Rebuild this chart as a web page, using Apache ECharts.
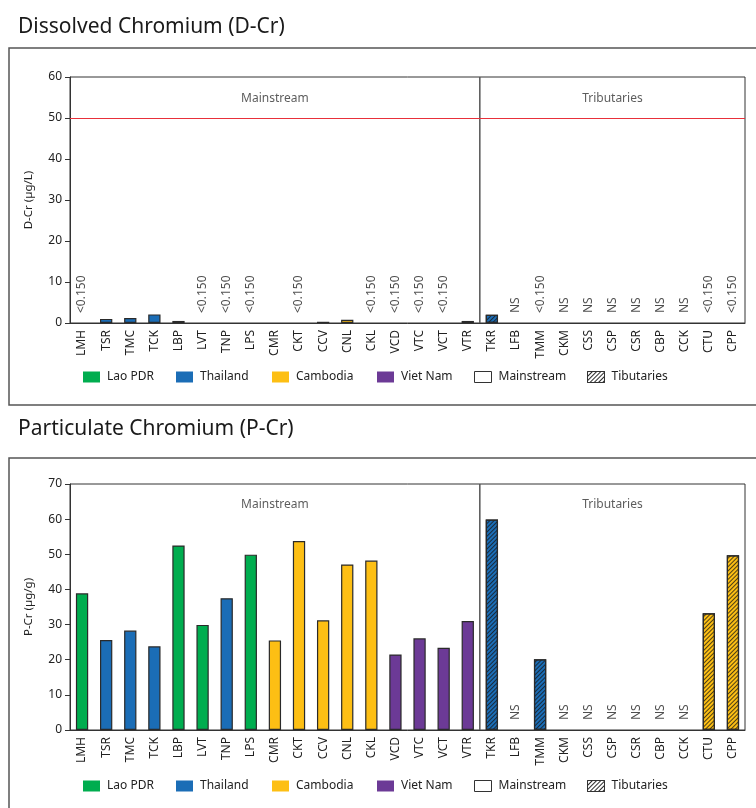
<!DOCTYPE html>
<html>
<head>
<meta charset="utf-8">
<script src="https://cdn.jsdelivr.net/npm/echarts@6/dist/echarts.min.js"></script>
<style>
html,body{margin:0;padding:0;background:#fff;}
#chart{width:756px;height:808px;}
</style>
</head>
<body>
<div id="chart"></div>
<script>
// ---- data ----
const categories = ['LMH','TSR','TMC','TCK','LBP','LVT','TNP','LPS','CMR','CKT','CCV','CNL','CKL','VCD','VTC','VCT','VTR',
                    'TKR','LFB','TMM','CKM','CSS','CSP','CSR','CBP','CCK','CTU','CPP'];
const countryOf = ['Lao PDR','Thailand','Thailand','Thailand','Lao PDR','Lao PDR','Thailand','Lao PDR','Cambodia','Cambodia','Cambodia','Cambodia','Cambodia','Viet Nam','Viet Nam','Viet Nam','Viet Nam',
                   'Thailand','Lao PDR','Thailand','Cambodia','Cambodia','Cambodia','Cambodia','Cambodia','Cambodia','Cambodia','Cambodia'];
const mainstreamCount = 17;
const dcrValues = [null,1.0,1.2,2.1,0.5,null,null,null,null,null,0.3,0.8,null,null,null,null,0.5,
                   2.0,null,null,null,null,null,null,null,null,null,null];
const dcrNotes = ['<0.150','','','','','<0.150','<0.150','<0.150','','<0.150','','','<0.150','<0.150','<0.150','<0.150','',
                  '','NS','<0.150','NS','NS','NS','NS','NS','NS','<0.150','<0.150'];
const pcrValues = [38.9,25.6,28.3,23.8,52.5,29.9,37.5,49.9,25.5,53.8,31.2,47.1,48.2,21.5,26.1,23.4,31.0,
                   59.9,null,20.1,null,null,null,null,null,null,33.2,49.7];
const pcrNotes = ['','','','','','','','','','','','','','','','','',
                  '','NS','','NS','NS','NS','NS','NS','NS','',''];
const dcrGuideline = 50;
const dcrTicks = {min:0,max:60,interval:10};
const pcrTicks = {min:0,max:70,interval:10};
const countries = ['Lao PDR','Thailand','Cambodia','Viet Nam'];
const countryColors = {'Lao PDR':'#00ad4f','Thailand':'#1b6db6','Cambodia':'#fdbf14','Viet Nam':'#6c3a96'};

// ---- build ----
const FONT = 'Noto Sans';
const hatch = {symbol:'rect',symbolSize:1,color:'rgba(20,20,20,0.75)',dashArrayX:[1,0],dashArrayY:[1,2],rotation:-Math.PI/4};
const hatchLegend = {symbol:'rect',symbolSize:1,color:'rgba(20,20,20,0.9)',dashArrayX:[1,0],dashArrayY:[1,2],rotation:-Math.PI/4};

const grids = [
  {left:70,right:11,top:77,height:246,show:true,borderColor:'#333',borderWidth:1,backgroundColor:'transparent'},
  {left:70,right:11,top:484,height:246,show:true,borderColor:'#333',borderWidth:1,backgroundColor:'transparent'}
];

const xAxes = [], yAxes = [], series = [];
const charts = [
  {values:dcrValues,notes:dcrNotes,ticks:dcrTicks,name:'D-Cr (\u00b5g/L)',guide:dcrGuideline,secY:54.8},
  {values:pcrValues,notes:pcrNotes,ticks:pcrTicks,name:'P-Cr (\u00b5g/g)',guide:null,secY:64.1}
];
charts.forEach((c,g)=>{
  xAxes.push({type:'category',gridIndex:g,data:categories,
    axisLine:{lineStyle:{color:'#333',width:1}},axisTick:{show:false},
    axisLabel:{rotate:90,interval:0,margin:7,fontFamily:FONT,fontSize:12,color:'#222'}});
  xAxes.push({type:'value',gridIndex:g,min:0,max:categories.length,show:false});
  yAxes.push({type:'value',gridIndex:g,min:c.ticks.min,max:c.ticks.max,interval:c.ticks.interval,
    name:c.name,nameLocation:'middle',nameGap:35,nameTextStyle:{fontFamily:FONT,fontSize:11.5,color:'#222'},
    axisLine:{show:true,lineStyle:{color:'#333',width:1}},axisTick:{show:true,length:5,lineStyle:{color:'#333'}},
    splitLine:{show:false},axisLabel:{margin:8,fontFamily:FONT,fontSize:12,color:'#222'}});
  const xi = g*2, yi = g;
  countries.forEach((cn,k)=>{
    const s = {name:cn,type:'bar',xAxisIndex:xi,yAxisIndex:yi,stack:'t'+g,barWidth:'51%',
      itemStyle:{color:countryColors[cn],borderColor:'#2a2a2a',borderWidth:1.2},
      emphasis:{disabled:true},
      data:c.values.map((v,i)=>{
        if(v==null || countryOf[i]!==cn) return null;
        if(i>=mainstreamCount) return {value:v,itemStyle:{decal:hatch}};
        return v;
      })};
    if(k===0 && c.guide!=null){
      s.markLine = {silent:true,symbol:'none',label:{show:false},lineStyle:{color:'#e8303a',width:1.2,type:'solid'},data:[{yAxis:c.guide}]};
    }
    series.push(s);
  });
  series.push({name:'Mainstream',type:'bar',xAxisIndex:xi,yAxisIndex:yi,stack:'t'+g,data:[],
    itemStyle:{color:'#fff',borderColor:'#333',borderWidth:1}});
  series.push({name:'Tibutaries',type:'bar',xAxisIndex:xi,yAxisIndex:yi,stack:'t'+g,data:[],
    itemStyle:{color:'#fff',borderColor:'#333',borderWidth:1,decal:hatchLegend}});
  // notes
  series.push({type:'scatter',xAxisIndex:xi,yAxisIndex:yi,symbolSize:0,silent:true,
    data:c.notes.map((n,i)=>n?{value:[i,0],label:{formatter:n}}:null).filter(d=>d),
    label:{show:true,position:'top',distance:10,rotate:90,align:'left',verticalAlign:'middle',
      fontFamily:FONT,fontSize:12,color:'#222'}});
  // divider and section labels
  series.push({type:'line',xAxisIndex:xi+1,yAxisIndex:yi,symbol:'none',silent:true,
    lineStyle:{color:'#555',width:1.5},data:[[mainstreamCount,c.ticks.min],[mainstreamCount,c.ticks.max]]});
  series.push({type:'scatter',xAxisIndex:xi+1,yAxisIndex:yi,symbolSize:0,silent:true,
    label:{show:true,position:'inside',fontFamily:FONT,fontSize:12,color:'#333',formatter:p=>p.data[2]},
    data:[[mainstreamCount/2,c.secY,'Mainstream'],[(mainstreamCount+categories.length)/2,c.secY,'Tributaries']]});
});

const legendPos = [['Lao PDR',83],['Thailand',176],['Cambodia',272],['Viet Nam',377],['Mainstream',474],['Tibutaries',587]];
const legends = [];
[371,780].forEach(top=>{
  legendPos.forEach(([n,x])=>{
    const isC = countries.indexOf(n)>=0;
    legends.push({data:[n],left:x,top:top,icon:'rect',itemWidth:17,itemHeight:11,itemGap:0,selectedMode:false,padding:0,
      textStyle:{fontFamily:FONT,fontSize:12,color:'#222',padding:[0,0,0,2]},
      itemStyle:isC?{borderWidth:0}:{borderColor:'#333',borderWidth:1}});
  });
});

const chart = echarts.init(document.getElementById('chart'),null,{renderer:'canvas'});
chart.setOption({
  animation:false,
  backgroundColor:'#fff',
  grid:grids,xAxis:xAxes,yAxis:yAxes,series:series,legend:legends,
  graphic:[
    {type:'rect',shape:{x:9,y:48,width:760,height:357},style:{fill:'none',stroke:'#555',lineWidth:1.5},silent:true},
    {type:'rect',shape:{x:9,y:458,width:760,height:400},style:{fill:'none',stroke:'#555',lineWidth:1.5},silent:true},
    {type:'text',left:18,top:17,style:{text:'Dissolved Chromium (D-Cr)',fontFamily:FONT,fontSize:21,fill:'#1a1a1a'}},
    {type:'text',left:18,top:419,style:{text:'Particulate Chromium (P-Cr)',fontFamily:FONT,fontSize:21,fill:'#1a1a1a'}}
  ]
});
</script>
</body>
</html>
